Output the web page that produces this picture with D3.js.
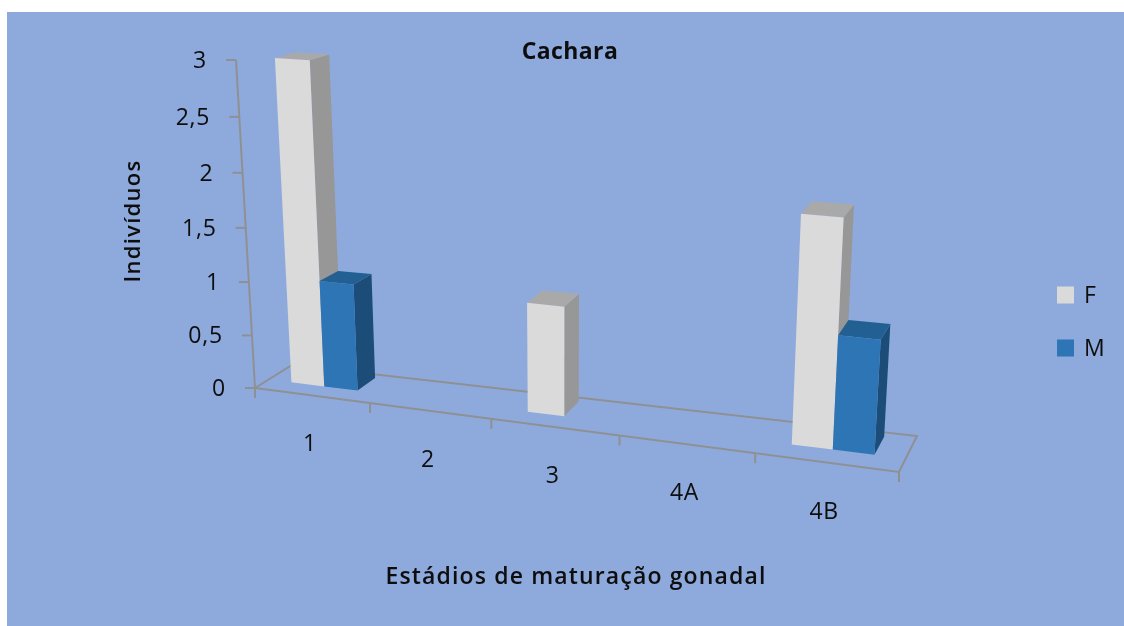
<!DOCTYPE html>
<html><head><meta charset="utf-8">
<script src="https://cdn.jsdelivr.net/npm/d3@7/dist/d3.min.js"></script>
<style>html,body{margin:0;padding:0;background:#fff;overflow:hidden}svg{display:block}</style>
</head><body><div id="c"></div>
<script>
const categories = ["1","2","3","4A","4B"];
const seriesNames = ["F","M"];
const valuesF = [3,0,1,0,2];
const valuesM = [1,0,0,0,1];
const yTicks = [0,0.5,1,1.5,2,2.5,3];
const yTickLabels = ["0","0,5","1","1,5","2","2,5","3"];
const titleText = "Cachara", xTitle = "Estádios de maturação gonadal", yTitle = "Indivíduos";
const W=1124,H=626;
const colors={F:{front:"#dadada",side:"#979797",top:"#a9a9a9"},M:{front:"#2e75b6",side:"#1c4e79",top:"#245f93"}};
const AXIS="#8f9094", INK="#0c0c0c", FONT="'Open Sans'";

// screen corners of the 3-D chart box, [u][v][d]
const box={ "000":[255,388],"100":[899,472],"001":[292,365],"101":[917,436],
            "010":[236,60], "110":[920,109],"011":[276,50], "111":[938,87] };
const persp=(t,c)=>t/(1+c*(1-t));
const uScale=d3.scaleLinear().domain([0,categories.length]).range([0,1]);
const vScale=d3.scaleLinear().domain([0,3]).range([0,1]);
const lerp=(a,b,t)=>[a[0]+(b[0]-a[0])*t,a[1]+(b[1]-a[1])*t];
function proj(cat,val,dep){
  const u=persp(uScale(cat),0.15),v=persp(vScale(val),0.048);
  const at=(vv,dd)=>lerp(box["0"+vv+dd],box["1"+vv+dd],u);
  return lerp(lerp(at(0,0),at(1,0),v),lerp(at(0,1),at(1,1),v),dep);
}
const bandX=d3.scaleBand().domain(categories).range([0,categories.length]);
const serX=d3.scaleBand().domain(seriesNames).range([0.01,0.98]).paddingOuter(0.667).paddingInner(0);
const D0=0.37,D1=0.88;

const svg=d3.select("#c").append("svg").attr("width",W).attr("height",H);
svg.append("defs").append("filter").attr("id","soft").attr("x",0).attr("y",0).attr("width",1).attr("height",1)
   .append("feGaussianBlur").attr("stdDeviation",0.6);
svg.append("rect").attr("x",7).attr("y",12).attr("width",W-7).attr("height",H-12)
   .attr("fill","#8eaadc");
const g=svg.append("g").attr("filter","url(#soft)");
const line=d3.line();
const path=(pts,attrs)=>{const p=g.append("path").attr("d",line(pts)+(attrs.close?"Z":""));
  p.attr("fill",attrs.fill||"none").attr("stroke",attrs.stroke||"none").attr("stroke-width",attrs.sw||0);return p;};
const ax={stroke:AXIS,sw:2};
const label=(x,y,txt,size,anchor,weight,extra)=>{
  const t=g.append("text").attr("x",x).attr("y",y).attr("dy","0.35em").attr("text-anchor",anchor)
   .attr("font-family",FONT).attr("font-size",size).attr("font-weight",weight||400).attr("fill",INK).text(txt);
  if(extra) t.attr("letter-spacing",extra);
  return t;
};

// floor
const n=categories.length;
path([proj(0,0,0),proj(0,0,1),proj(n,0,1),proj(n,0,0),proj(0,0,0)],ax);
// value axis
path([proj(0,0,0),proj(0,3,0)],ax);
yTicks.forEach((t,i)=>{
  const p=proj(0,t,0);
  path([[p[0]-10,p[1]],p],ax);
  label(p[0]-29,p[1],yTickLabels[i],23,"end",500,0.8);
});
// category ticks and labels
d3.range(n+1).forEach(i=>{const p=proj(i,0,0);path([p,[p[0],p[1]+10]],ax);});
categories.forEach(c=>{
  const p=proj(bandX(c)+0.5,0,0);
  label(p[0]-2,p[1]+48,c,23,"middle",500,0.5);
});
// bars
const seriesVals={F:valuesF,M:valuesM};
categories.forEach((c,i)=>{
  seriesNames.forEach(s=>{
    const val=seriesVals[s][i]; if(!val) return;
    const a=bandX(c)+serX(s), b=a+serX.bandwidth(), col=colors[s];
    path([proj(b,0,D0),proj(b,0,D1),proj(b,val,D1),proj(b,val,D0)],{close:1,fill:col.side});
    path([proj(a,val,D0),proj(b,val,D0),proj(b,val,D1),proj(a,val,D1)],{close:1,fill:col.top});
    path([proj(a,0,D0),proj(b,0,D0),proj(b,val,D0),proj(a,val,D0)],{close:1,fill:col.front});
  });
});
// titles
label(570,51,titleText,23,"middle",700,0.4);
label(576,576,xTitle,23,"middle",600,1.15);
g.append("text").attr("transform","translate(132,221) rotate(-90)").attr("dy","0.35em").attr("text-anchor","middle")
 .attr("font-family",FONT).attr("font-weight",600).attr("font-size",22).attr("letter-spacing",1.3).attr("fill",INK).text(yTitle);
// legend
const legY=d3.scalePoint().domain(seriesNames).range([295,348]);
seriesNames.forEach(s=>{
  g.append("rect").attr("x",1057).attr("y",legY(s)-8.5).attr("width",17).attr("height",17).attr("fill",colors[s].front);
  label(1084,legY(s),s,23,"start",500);
});
</script></body></html>
